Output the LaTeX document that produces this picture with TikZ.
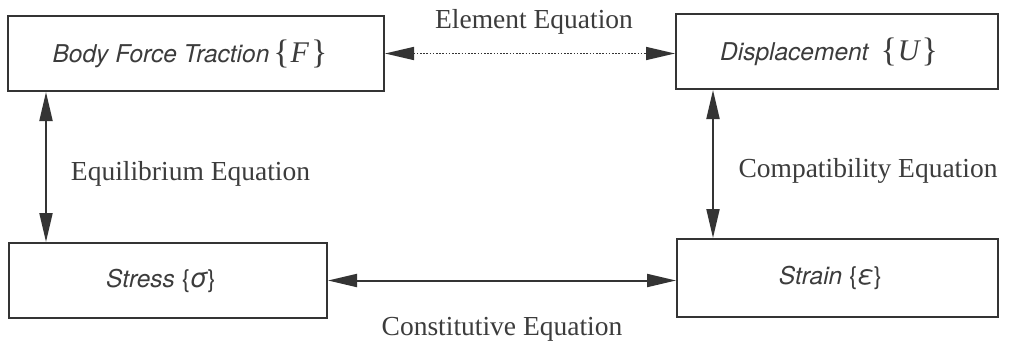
\documentclass[tikz,border=0pt]{standalone}
\usepackage{fontspec}
\setmainfont{Liberation Serif}
\newfontfamily\boxfont{TeX Gyre Heros}
\newfontfamily\symfont{Liberation Serif}
\usetikzlibrary{arrows.meta}
\definecolor{ink}{HTML}{343434}
\definecolor{txt}{HTML}{3C3C3C}
\tikzset{
  blk/.style={draw=ink, line width=2pt, inner sep=0pt, text=txt,
    font=\boxfont\itshape\fontsize{24.5}{28}\selectfont},
  rel/.style={draw=ink, line width=2pt, {Triangle[length=29pt,width=13pt]}-{Triangle[length=29pt,width=13pt]}},
  dotrel/.style={rel, line width=1.6pt, dash pattern=on 1.6pt off 1.6pt},
  lbl/.style={anchor=base, inner sep=0pt, text=txt, font=\fontsize{27.5}{32}\selectfont}
}
\newcommand{\bigbr}[1]{{\symfont\upshape\fontsize{34}{36}\selectfont\raisebox{-1pt}{\{}\kern1pt{\fontsize{30}{32}\selectfont\itshape #1}\kern2pt\raisebox{-1pt}{\}}}}
\newcommand{\smbr}[1]{{\upshape\{}{\fontsize{27}{30}\selectfont #1}{\upshape\}}}
\begin{document}
\begin{tikzpicture}[x=1pt,y=-1pt]
\useasboundingbox (0,0) rectangle (1012,349);
\fill[white] (0,0) rectangle (1012,349);
\node[blk, minimum width=376pt, minimum height=75pt] (bf) at (196,53.5)
  {Body Force Traction\hspace{4pt}\bigbr{F}\hspace*{12pt}};
\node[blk, minimum width=322pt, minimum height=75pt] (disp) at (837,51.5)
  {Displacement\hspace{12pt}\bigbr{U}\hspace*{16pt}};
\node[blk, minimum width=318pt, minimum height=75pt] (st) at (168,280.5)
  {Stress \smbr{σ}\hspace*{14pt}};
\node[blk, minimum width=321pt, minimum height=78pt] (sn) at (837.5,278)
  {Strain \smbr{ε}\hspace*{14pt}};
\draw[dotrel] (bf.east) -- (bf.east -| disp.west);
\draw[rel] ([xshift=39pt]bf.south west) -- ([xshift=39pt]bf.south west |- st.north);
\draw[rel] ([xshift=38pt]disp.south west) -- ([xshift=38pt]disp.south west |- sn.north);
\draw[rel] (st.east) -- (st.east -| sn.west);
\node[lbl] (ee) at (534,28) {Element Equation};
\node[lbl] (eq) at (190.5,180) {Equilibrium Equation};
\node[lbl] (ce) at (868,177) {Compatibility Equation};
\node[lbl] (co) at (502,335) {Constitutive Equation};
\end{tikzpicture}
\end{document}
